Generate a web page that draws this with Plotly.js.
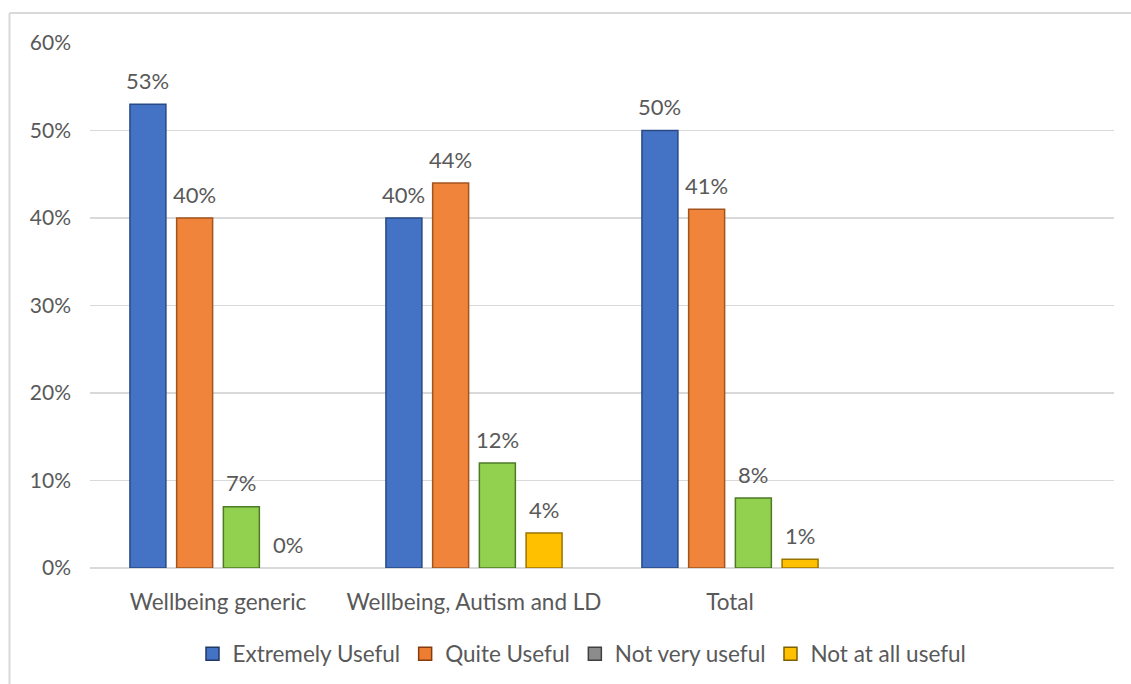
<!DOCTYPE html>
<html>
<head>
<meta charset="utf-8">
<script src="https://cdn.plot.ly/plotly-3.0.1.min.js"></script>
<style>
  html, body { margin: 0; padding: 0; background: #ffffff; }
  #chart { width: 1131px; height: 684px; }
</style>
</head>
<body>
<div id="chart"></div>
<script>
// Survey groups shown along the x axis
const categories = ['Wellbeing generic', 'Wellbeing, Autism and LD', 'Total'];

// Share of respondents per answer
const extremelyUseful = [0.53, 0.40, 0.50];
const quiteUseful     = [0.40, 0.44, 0.41];
const notVeryUseful   = [0.07, 0.12, 0.08];
const notAtAllUseful  = [0.00, 0.04, 0.01];

const seriesNames = ['Extremely Useful', 'Quite Useful', 'Not very useful', 'Not at all useful'];
const yTickValues = [0, 0.1, 0.2, 0.3, 0.4, 0.5, 0.6];
const yTickLabels = ['0%', '10%', '20%', '30%', '40%', '50%', '60%'];

const FONT = 'Lato, "Liberation Sans", sans-serif';
const TEXT = '#595959';
const W = 1131, H = 684;
const M = { l: 90, r: 17, t: 43, b: 116 };
const BARGAP = 0.27, BARGROUPGAP = 0.23;
const SLOTS = 4; // x range spans four category slots

const barFill   = ['#4472C4', '#F0843A', '#92D050', '#FFC000'];
const barEdge   = ['#2A4A85', '#A4541E', '#4E7A26', '#9A7400'];
const keyFill   = ['#4472C4', '#ED7D31', '#8C8C8C', '#FFC000'];
const keyEdge   = ['#1F3864', '#843C0C', '#404040', '#7F6000'];

const values = [extremelyUseful, quiteUseful, notVeryUseful, notAtAllUseful];

const traces = values.map((v, i) => ({
  type: 'bar',
  x: categories,
  y: v,
  name: seriesNames[i],
  showlegend: false,
  marker: {
    color: barFill[i],
    line: { color: barEdge[i], width: v.map(d => (d > 0 ? 1.5 : 0)) }
  },
  cliponaxis: false,
  hoverinfo: 'skip'
}));

// Legend keys (square swatches)
seriesNames.forEach((n, i) => {
  traces.push({
    type: 'scatter',
    mode: 'markers',
    x: [null],
    y: [null],
    name: n,
    marker: { symbol: 'square', size: 13, color: keyFill[i], line: { color: keyEdge[i], width: 1.5 } },
    hoverinfo: 'skip'
  });
});

const pw = W - M.l - M.r, ph = H - M.t - M.b;
const px = x => (x - M.l) / pw;
const py = y => (H - M.b - y) / ph;

// Value labels above each bar, shifted sideways to the bar's place in its group
const slotPx = (pw / SLOTS) * (1 - BARGAP) / values.length;
const annotations = [];
values.forEach((v, i) => {
  v.forEach((d, j) => {
    annotations.push({
      x: categories[j],
      y: d,
      xref: 'x',
      yref: 'y',
      text: Math.round(d * 100) + '%',
      showarrow: false,
      xanchor: 'center',
      yanchor: 'middle',
      xshift: (i - (values.length - 1) / 2) * slotPx,
      yshift: 24,
      font: { family: FONT, size: 22, color: TEXT }
    });
  });
});

const layout = {
  width: W,
  height: H,
  margin: M,
  paper_bgcolor: '#ffffff',
  plot_bgcolor: '#ffffff',
  barmode: 'group',
  bargap: BARGAP,
  bargroupgap: BARGROUPGAP,
  font: { family: FONT, size: 21, color: TEXT },
  xaxis: {
    type: 'category',
    range: [-0.5, SLOTS - 0.5],
    showgrid: false,
    showline: false,
    zeroline: false,
    ticks: '',
    ticklabelstandoff: 18,
    tickfont: { family: FONT, size: 22.5, color: TEXT },
    fixedrange: true
  },
  yaxis: {
    range: [0, 0.6],
    tickvals: yTickValues,
    ticktext: yTickLabels,
    showgrid: true,
    gridcolor: '#D9D9D9',
    gridwidth: 1.5,
    zeroline: true,
    zerolinecolor: '#D9D9D9',
    zerolinewidth: 1.5,
    showline: false,
    ticks: '',
    ticklabelstandoff: 18,
    tickfont: { family: FONT, size: 21, color: TEXT },
    fixedrange: true
  },
  showlegend: true,
  legend: {
    orientation: 'h',
    xref: 'container',
    yref: 'container',
    x: 582 / W,
    xanchor: 'center',
    y: 1 - 654 / H,
    yanchor: 'middle',
    font: { family: FONT, size: 22.5, color: TEXT },
    itemwidth: 30,
    traceorder: 'normal'
  },
  annotations: annotations,
  shapes: [
    { type: 'line', xref: 'paper', yref: 'paper', x0: px(9.5), x1: px(W), y0: py(13), y1: py(13),
      line: { color: '#D9D9D9', width: 2 } },
    { type: 'line', xref: 'paper', yref: 'paper', x0: px(9.5), x1: px(9.5), y0: py(13), y1: py(H),
      line: { color: '#D9D9D9', width: 2 } }
  ]
};

Plotly.newPlot('chart', traces, layout, { displayModeBar: false, staticPlot: true });
</script>
</body>
</html>
